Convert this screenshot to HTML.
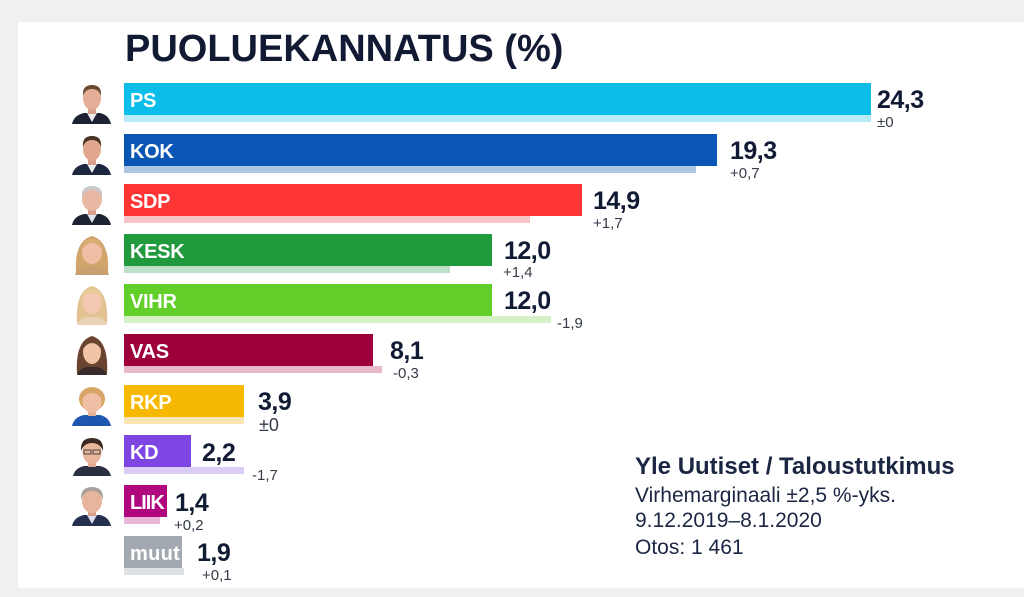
<!DOCTYPE html>
<html><head><meta charset="utf-8">
<style>
html,body{margin:0;padding:0;}
body{width:1024px;height:597px;background:#eff0f2;position:relative;overflow:hidden;font-family:"Liberation Sans",sans-serif;}
#card{position:absolute;left:18px;top:22px;width:1006px;height:566px;background:#fff;}
.a{position:absolute;}
.bar{position:absolute;left:124px;height:32px;overflow:hidden;}
.bar span{position:absolute;left:6px;top:8px;font-size:20px;line-height:1;font-weight:bold;color:#fff;white-space:nowrap;letter-spacing:-0.3px;}
.lb{position:absolute;left:124px;height:7px;}
.v{position:absolute;font-size:25px;line-height:1;font-weight:bold;color:#121b34;letter-spacing:-0.5px;white-space:nowrap;}
.c{position:absolute;font-size:15px;line-height:1;color:#353b48;white-space:nowrap;}
.t{position:absolute;left:125px;top:30px;font-size:38px;line-height:1;font-weight:bold;color:#121a33;white-space:nowrap;}
.f{position:absolute;left:635px;line-height:1;color:#1b2643;white-space:nowrap;}
svg.p{position:absolute;left:71px;width:42px;height:42px;}
</style></head><body>
<div id="card"></div>
<div class="t">PUOLUEKANNATUS (%)</div>

<!-- PS -->
<svg class="p" style="top:82px" viewBox="0 0 42 42"><path d="M1 42 Q3 33 13 31 L29 31 Q38 33 40 42Z" fill="#1d2333"/><path d="M16 31 L21 40 L26 31Z" fill="#eee"/><rect x="17" y="24" width="8" height="8" fill="#d8a08a"/><ellipse cx="21" cy="16" rx="9" ry="12" fill="#e4ae96"/><path d="M12 14 Q11 3 21 3 Q31 3 30 14 Q28 7 21 7 Q14 7 12 14Z" fill="#6b4a35"/></svg>
<div class="lb" style="top:115px;width:747px;background:#b8eaf7"></div>
<div class="bar" style="top:83px;width:747px;background:#0cbde9"><span>PS</span></div>
<div class="v" style="left:877px;top:88px">24,3</div>
<div class="c" style="left:877px;top:115px">±0</div>

<!-- KOK -->
<svg class="p" style="top:133px" viewBox="0 0 42 42"><path d="M1 42 Q3 33 13 31 L29 31 Q38 33 40 42Z" fill="#1d2840"/><path d="M16 31 L21 40 L26 31Z" fill="#eee"/><rect x="17" y="24" width="8" height="8" fill="#d8a08a"/><ellipse cx="21" cy="16" rx="9" ry="12" fill="#e2a88e"/><path d="M12 14 Q11 3 21 3 Q31 3 30 14 Q28 7 21 7 Q14 7 12 14Z" fill="#4a3325"/></svg>
<div class="lb" style="top:166px;width:572px;background:#adc6e4"></div>
<div class="bar" style="top:134px;width:593px;background:#0a56b4"><span>KOK</span></div>
<div class="v" style="left:730px;top:139px">19,3</div>
<div class="c" style="left:730px;top:166px">+0,7</div>

<!-- SDP -->
<svg class="p" style="top:183px" viewBox="0 0 42 42"><path d="M1 42 Q3 33 13 31 L29 31 Q38 33 40 42Z" fill="#1d2333"/><path d="M16 31 L21 40 L26 31Z" fill="#dfe6f0"/><rect x="17" y="24" width="8" height="8" fill="#d8a08a"/><ellipse cx="21" cy="16" rx="10" ry="12" fill="#e8b8a2"/><path d="M11 14 Q10 3 21 3 Q32 3 31 14 Q29 7 21 7 Q13 7 11 14Z" fill="#c9c9c9"/></svg>
<div class="lb" style="top:216px;width:406px;background:#f7c3c7"></div>
<div class="bar" style="top:184px;width:458px;background:#fd3534"><span>SDP</span></div>
<div class="v" style="left:593px;top:189px">14,9</div>
<div class="c" style="left:593px;top:216px">+1,7</div>

<!-- KESK -->
<svg class="p" style="top:233px" viewBox="0 0 42 42"><path d="M5 40 Q3 8 21 3 Q39 8 37 40Z" fill="#d0a66c"/><path d="M4 42 Q6 35 14 33 L28 33 Q36 35 38 42Z" fill="#caa070"/><ellipse cx="21" cy="19" rx="10" ry="12" fill="#efbea4"/><path d="M11 17 Q12 6 21 6 Q30 6 31 17 Q27 10 21 10 Q15 10 11 17Z" fill="#d8ae72"/></svg>
<div class="lb" style="top:266px;width:326px;background:#bfdfc8"></div>
<div class="bar" style="top:234px;width:368px;background:#219a3e"><span>KESK</span></div>
<div class="v" style="left:504px;top:239px">12,0</div>
<div class="c" style="left:503px;top:265px">+1,4</div>

<!-- VIHR -->
<svg class="p" style="top:283px" viewBox="0 0 42 42"><path d="M6 40 Q4 8 21 3 Q38 8 36 40Z" fill="#e2c292"/><path d="M6 42 Q8 36 15 34 L27 34 Q34 36 36 42Z" fill="#e9d2b8"/><ellipse cx="21" cy="19" rx="9.5" ry="12" fill="#f2c8b0"/><path d="M11 17 Q12 6 21 6 Q30 6 31 17 Q27 10 21 10 Q15 10 11 17Z" fill="#e8cb98"/></svg>
<div class="lb" style="top:316px;width:427px;background:#d6f0c8"></div>
<div class="bar" style="top:284px;width:368px;background:#62cf2b"><span>VIHR</span></div>
<div class="v" style="left:504px;top:289px">12,0</div>
<div class="c" style="left:557px;top:316px">-1,9</div>

<!-- VAS -->
<svg class="p" style="top:333px" viewBox="0 0 42 42"><path d="M6 41 Q4 8 21 3 Q38 8 36 41Z" fill="#6b4430"/><path d="M6 42 Q8 36 15 34 L27 34 Q34 36 36 42Z" fill="#3a2a2a"/><ellipse cx="21" cy="19" rx="9" ry="12" fill="#f0c2a6"/><path d="M12 16 Q13 6 21 6 Q29 6 30 16 Q26 10 21 10 Q16 10 12 16Z" fill="#6b4430"/></svg>
<div class="lb" style="top:366px;width:258px;background:#e6b8c8"></div>
<div class="bar" style="top:334px;width:249px;background:#9e003b"><span>VAS</span></div>
<div class="v" style="left:390px;top:339px">8,1</div>
<div class="c" style="left:393px;top:366px">-0,3</div>

<!-- RKP -->
<svg class="p" style="top:384px" viewBox="0 0 42 42"><path d="M1 42 Q3 33 13 31 L29 31 Q38 33 40 42Z" fill="#1f56b0"/><ellipse cx="21" cy="15" rx="13" ry="12" fill="#d7a565"/><rect x="17" y="24" width="8" height="8" fill="#e6b096"/><ellipse cx="21" cy="18" rx="9.5" ry="11" fill="#efbea4"/><path d="M11 16 Q11 6 21 6 Q31 6 31 16 Q28 9 21 9 Q14 9 11 16Z" fill="#d7a565"/></svg>
<div class="lb" style="top:417px;width:120px;background:#fbe6b3"></div>
<div class="bar" style="top:385px;width:120px;background:#f6b800"><span>RKP</span></div>
<div class="v" style="left:258px;top:390px">3,9</div>
<div class="c" style="left:259px;top:416px;font-size:18px">±0</div>

<!-- KD -->
<svg class="p" style="top:434px" viewBox="0 0 42 42"><path d="M2 42 Q4 34 13 32 L29 32 Q38 34 40 42Z" fill="#2a3040"/><rect x="17" y="25" width="8" height="8" fill="#e0a88e"/><ellipse cx="21" cy="18" rx="9.5" ry="12" fill="#eab69c"/><path d="M10 17 Q9 4 21 4 Q33 4 32 17 Q29 9 21 9 Q13 9 10 17Z" fill="#3a2a22"/><rect x="13" y="16" width="7" height="4" fill="none" stroke="#444" stroke-width="1"/><rect x="22" y="16" width="7" height="4" fill="none" stroke="#444" stroke-width="1"/></svg>
<div class="lb" style="top:467px;width:120px;background:#dccdf7"></div>
<div class="bar" style="top:435px;width:67px;background:#7d45e2"><span>KD</span></div>
<div class="v" style="left:202px;top:441px">2,2</div>
<div class="c" style="left:252px;top:468px">-1,7</div>

<!-- LIIK -->
<svg class="p" style="top:484px" viewBox="0 0 42 42"><path d="M1 42 Q3 33 13 31 L29 31 Q38 33 40 42Z" fill="#253050"/><path d="M16 31 L21 40 L26 31Z" fill="#dde"/><rect x="17" y="24" width="8" height="8" fill="#d8a08a"/><ellipse cx="21" cy="17" rx="10" ry="12" fill="#e8b49c"/><path d="M10 16 Q9 3 21 3 Q33 3 32 16 Q29 7 21 7 Q13 7 10 16Z" fill="#a8a29a"/></svg>
<div class="lb" style="top:517px;width:36px;background:#e8b8d6"></div>
<div class="bar" style="top:485px;width:43px;background:#b0077f"><span style="letter-spacing:-1px">LIIK</span></div>
<div class="v" style="left:175px;top:491px">1,4</div>
<div class="c" style="left:174px;top:518px">+0,2</div>

<!-- muut -->
<div class="lb" style="top:568px;width:60px;background:#dfe2e5"></div>
<div class="bar" style="top:536px;width:58px;background:#a3a9b1"><span style="letter-spacing:0.3px">muut</span></div>
<div class="v" style="left:197px;top:541px">1,9</div>
<div class="c" style="left:202px;top:568px">+0,1</div>

<div class="f" style="top:455px;font-size:24px;font-weight:bold">Yle Uutiset / Taloustutkimus</div>
<div class="f" style="top:485px;font-size:21px">Virhemarginaali ±2,5 %-yks.</div>
<div class="f" style="top:510px;font-size:21px">9.12.2019–8.1.2020</div>
<div class="f" style="top:537px;font-size:21px">Otos: 1 461</div>
</body></html>
